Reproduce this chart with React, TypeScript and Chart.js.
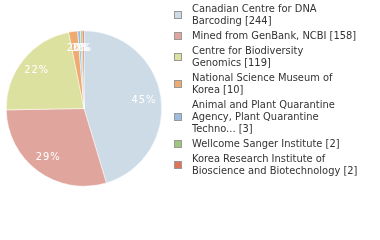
import React, { useEffect, useRef } from "react";
import { Chart, registerables } from "chart.js";

Chart.register(...registerables);

const labels = [
  "Canadian Centre for DNA Barcoding [244]",
  "Mined from GenBank, NCBI [158]",
  "Centre for Biodiversity Genomics [119]",
  "National Science Museum of Korea [10]",
  "Animal and Plant Quarantine Agency, Plant Quarantine Techno... [3]",
  "Wellcome Sanger Institute [2]",
  "Korea Research Institute of Bioscience and Biotechnology [2]",
];
const legendLines = [
  ["Canadian Centre for DNA", "Barcoding [244]"],
  ["Mined from GenBank, NCBI [158]"],
  ["Centre for Biodiversity", "Genomics [119]"],
  ["National Science Museum of", "Korea [10]"],
  ["Animal and Plant Quarantine", "Agency, Plant Quarantine", "Techno... [3]"],
  ["Wellcome Sanger Institute [2]"],
  ["Korea Research Institute of", "Bioscience and Biotechnology [2]"],
];
const values = [244, 158, 119, 10, 3, 2, 2];
const colors = ["#cddbe7", "#e0a69d", "#dde19f", "#eeaa6f", "#9dbde0", "#9dc77c", "#e07358"];

const FONT = "'DejaVu Sans Condensed', 'DejaVu Sans', sans-serif";

const labelPlugin = {
  id: "sliceLabels",
  afterDatasetsDraw(chart: any) {
    const ctx = chart.ctx;
    const meta = chart.getDatasetMeta(0);
    const total = values.reduce((a, b) => a + b, 0);
    ctx.save();
    ctx.fillStyle = "#ffffff";
    ctx.font = `11px ${FONT}`;
    ctx.textAlign = "center";
    ctx.textBaseline = "middle";
    (ctx as any).letterSpacing = "1px";
    meta.data.forEach((arc: any, i: number) => {
      const { x, y, startAngle, endAngle, outerRadius } = arc.getProps(
        ["x", "y", "startAngle", "endAngle", "outerRadius"],
        true
      );
      const mid = (startAngle + endAngle) / 2;
      const r = outerRadius * 0.78;
      const pct = Math.round((values[i] / total) * 100);
      ctx.fillText(pct + "%", x + Math.cos(mid) * r, y + Math.sin(mid) * r);
    });
    ctx.restore();
  },
};

const legendPlugin = {
  id: "customLegend",
  afterDraw(chart: any) {
    const ctx = chart.ctx;
    ctx.save();
    ctx.font = `11px ${FONT}`;
    ctx.textBaseline = "middle";
    ctx.textAlign = "left";
    const lineH = 12;
    const gap = 3;
    let y = 9;
    legendLines.forEach((lines, i) => {
      const h = lines.length * lineH;
      const cy = y + (h - lineH) / 2;
      ctx.fillStyle = colors[i];
      ctx.fillRect(174.5, Math.round(cy - 4) + 0.5, 7, 7);
      ctx.strokeStyle = "#999999";
      ctx.lineWidth = 1;
      ctx.strokeRect(174.5, Math.round(cy - 4) + 0.5, 7, 7);
      ctx.fillStyle = "#333333";
      lines.forEach((t, j) => ctx.fillText(t, 192, y + j * lineH));
      y += h + gap;
    });
    ctx.restore();
  },
};

export default function App() {
  const ref = useRef<HTMLCanvasElement>(null);
  useEffect(() => {
    if (!ref.current) return;
    const chart = new Chart(ref.current, {
      type: "pie",
      data: {
        labels,
        datasets: [
          {
            data: values,
            backgroundColor: colors,
            borderColor: "#ffffff",
            borderWidth: 0.5,
          },
        ],
      },
      options: {
        animation: false,
        responsive: false,
        layout: { padding: { left: 6, right: 218, top: 30, bottom: 53 } },
        plugins: {
          legend: { display: false },
          tooltip: { enabled: false },
        },
      },
      plugins: [labelPlugin, legendPlugin],
    });
    return () => chart.destroy();
  }, []);
  return (
    <div style={{ position: "fixed", left: 0, top: 0, width: 380, height: 240, background: "#fff" }}>
      <canvas ref={ref} width={380} height={240} style={{ width: 380, height: 240 }} />
    </div>
  );
}
